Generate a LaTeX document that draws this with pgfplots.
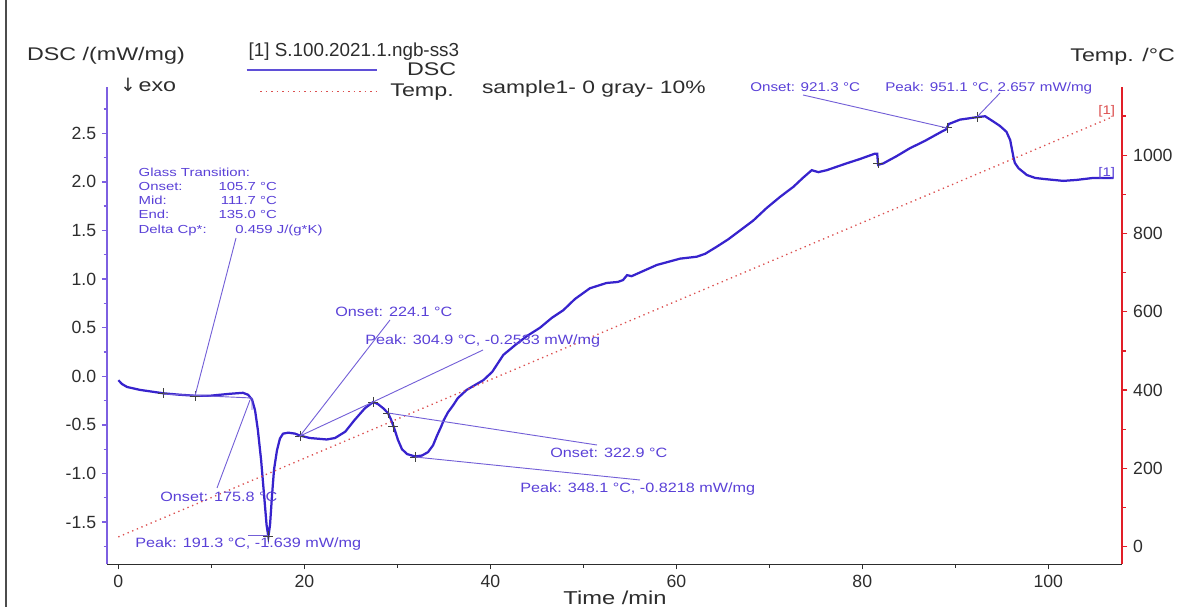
\documentclass[border=0pt]{standalone}
\usepackage{pgfplots}
\pgfplotsset{compat=1.18}
\usepackage{fontspec}
\setmainfont{Liberation Sans}
\newfontfamily\widefont[FakeStretch=1.27]{Liberation Sans}
\newfontfamily\annfont[FakeStretch=1.2]{Liberation Sans}
\newfontfamily\glassfont[FakeStretch=1.28]{Liberation Sans}
\newfontfamily\symfont{DejaVu Sans}

\definecolor{dscblue}{RGB}{55,35,205}
\definecolor{axblue}{RGB}{125,95,225}
\definecolor{annblue}{RGB}{90,65,215}
\definecolor{leader}{RGB}{115,95,215}
\definecolor{tred}{RGB}{225,30,40}
\definecolor{tdot}{RGB}{220,80,80}
\definecolor{txt}{RGB}{45,45,45}

\begin{document}
\begin{tikzpicture}
\useasboundingbox (0,0) rectangle (710.4pt,364.2pt);

% --- DSC, left axis -------------------------------------------------------
\begin{axis}[
  at={(64.2pt,25.62pt)}, anchor=south west,
  scale only axis, width=609.2pt, height=286.1pt,
  xmin=-1.22, xmax=107.96, ymin=-1.934, ymax=2.971,
  axis x line*=bottom, axis y line*=left,
  x axis line style={txt, line width=0.9pt},
  y axis line style={axblue, line width=1.2pt},
  xtick={0,20,...,100}, minor xtick={10,30,...,90},
  ytick={-1.5,-1,...,2.5}, minor ytick={-1.75,-1.25,...,2.75},
  tick align=outside, major tick length=3pt, minor tick length=2pt,
  x tick style={txt, line width=0.8pt},
  y tick style={axblue, line width=0.8pt},
  /pgf/number format/assume math mode=true,
  yticklabel style={/pgf/number format/.cd, fixed, fixed zerofill, precision=1},
  tick label style={font=\fontsize{10.6}{12}\selectfont, text=txt},
]
\addplot[dscblue, line width=1.35pt] coordinates {
  (0,-0.04) (0.4,-0.08) (0.94,-0.11) (2.33,-0.14) (4.84,-0.175) (6.63,-0.19)
  (8.25,-0.20) (9.86,-0.20) (12.0,-0.18) (13.4,-0.17) (13.95,-0.19) (14.38,-0.24)
  (14.7,-0.35) (15.0,-0.55) (15.35,-0.86) (15.67,-1.22) (15.94,-1.53) (16.13,-1.65)
  (16.31,-1.53) (16.53,-1.22) (16.74,-0.96) (17.06,-0.76) (17.38,-0.64) (17.71,-0.59)
  (18.28,-0.58) (19.0,-0.59) (19.54,-0.61) (20.6,-0.635) (22.4,-0.65) (23.3,-0.635)
  (24.4,-0.57) (25.4,-0.45) (26.5,-0.33) (27.4,-0.265) (27.9,-0.285) (28.5,-0.33)
  (29.0,-0.38) (29.3,-0.44) (29.65,-0.53) (30.07,-0.655) (30.5,-0.75) (31.05,-0.80)
  (31.9,-0.825) (32.65,-0.815) (33.3,-0.78) (33.84,-0.71) (34.27,-0.61) (34.7,-0.52)
  (35.0,-0.45) (35.45,-0.37) (35.99,-0.30) (36.5,-0.225) (37.46,-0.14) (38.35,-0.09)
  (39.25,-0.04) (40.2,0.045) (41.4,0.22) (42.66,0.32) (43.95,0.415) (45.35,0.50)
  (46.6,0.60) (47.85,0.68) (49.1,0.795) (50.7,0.905) (52.5,0.96) (53.7,0.97)
  (54.27,0.99) (54.7,1.04) (55.2,1.03) (57.9,1.145) (60.4,1.21) (62.2,1.23)
  (63.1,1.26) (64.3,1.33) (65.6,1.41) (66.85,1.50) (68.25,1.60) (69.7,1.73)
  (71.15,1.845) (72.6,1.95) (73.6,2.04) (74.56,2.12) (75.27,2.10) (76.17,2.12)
  (78.3,2.19) (79.75,2.235) (81.35,2.29) (81.6,2.29) (81.7,2.175) (82.26,2.19)
  (83.7,2.265) (85.1,2.345) (86.7,2.42) (88.5,2.515) (89.0,2.54) (89.3,2.595)
  (90.5,2.64) (92.3,2.665) (93.2,2.675) (94.1,2.62) (94.8,2.575) (95.5,2.515)
  (95.9,2.43) (96.1,2.33) (96.24,2.26) (96.4,2.195) (96.8,2.14) (97.7,2.07)
  (98.6,2.04) (99.5,2.03) (101.6,2.01) (103.05,2.02) (104.8,2.04) (107.0,2.04)
};
% characteristic points
\addplot[only marks, mark=+, mark size=3pt, black!75, mark options={line width=0.5pt}]
  coordinates {
  (4.84,-0.175) (8.25,-0.204) (16.13,-1.643) (19.54,-0.614) (27.42,-0.264)
  (29.0,-0.377) (29.57,-0.518) (31.9,-0.83) (81.72,2.19) (89.1,2.555) (92.33,2.667)
};
\end{axis}

% --- Temperature, right axis ---------------------------------------------
\begin{axis}[
  at={(64.2pt,25.62pt)}, anchor=south west,
  scale only axis, width=609.2pt, height=286.1pt,
  xmin=-1.22, xmax=107.96, ymin=-45, ymax=1173,
  hide x axis, axis y line*=right,
  y axis line style={tred, line width=1.2pt},
  ytick={0,200,...,1000}, minor ytick={100,300,...,1100},
  tick align=outside, major tick length=3pt, minor tick length=2pt,
  y tick style={tred, line width=0.8pt},
  /pgf/number format/assume math mode=true,
  /pgf/number format/set thousands separator={},
  tick label style={font=\fontsize{10.6}{12}\selectfont, text=txt},
]
\addplot[tdot, dash pattern=on 0.8pt off 2.2pt, line width=0.8pt]
  coordinates {(0,25) (106.8,1097)};
\end{axis}

% --- frame, headings and annotations in reference pixel units -----------
\begin{scope}[x=0.6pt,y=0.6pt]
\draw[black!70, line width=1.2pt] (6,0) -- (6,607);
\node[anchor=base west, inner sep=0, text=txt, font=\widefont\fontsize{11}{13}\selectfont]
  at (26.7,607-60.7) {DSC /(mW/mg)};
\node[anchor=base west, inner sep=0, text=txt, font=\fontsize{11}{13}\selectfont]
  at (120,607-91.7) {\symfont\char"2193};
\node[anchor=base west, inner sep=0, text=txt, font=\widefont\fontsize{11}{13}\selectfont]
  at (138.3,607-91.7) {exo};
\node[anchor=base west, inner sep=0, text=txt, font=\fontsize{11.3}{13}\selectfont]
  at (248.3,607-56.7) {[1] S.100.2021.1.ngb-ss3};
\draw[dscblue!80!white, line width=0.9pt] (246.7,607-70) -- (376.7,607-70);
\node[anchor=base west, inner sep=0, text=txt, font=\widefont\fontsize{11}{13}\selectfont]
  at (406.7,607-76) {DSC};
\draw[tdot, dash pattern=on 0.9pt off 2.4pt, line width=0.9pt] (260,607-91.7) -- (380,607-91.7);
\node[anchor=base west, inner sep=0, text=txt, font=\widefont\fontsize{11}{13}\selectfont]
  at (390,607-97) {Temp.};
\node[anchor=base west, inner sep=0, text=txt, font=\widefont\fontsize{10.8}{13}\selectfont]
  at (481.7,607-93.5) {sample1- 0 gray- 10\%};
\node[anchor=base west, inner sep=0, text=txt, font=\widefont\fontsize{11}{13}\selectfont]
  at (1070,607-61.7) {Temp. /°C};
\node[anchor=base, inner sep=0, text=txt, font=\widefont\fontsize{11.2}{13}\selectfont]
  at (615,607-605) {Time /min};
\node[anchor=base west, inner sep=0, text=tdot, font=\annfont\fontsize{7.5}{9}\selectfont]
  at (1098,607-115) {[1]};
\node[anchor=base west, inner sep=0, text=annblue, font=\annfont\fontsize{7.5}{9}\selectfont]
  at (1098,607-177) {[1]};

\begin{scope}[every node/.style={anchor=base west, inner sep=0, text=annblue,
    font=\glassfont\fontsize{7}{8}\selectfont}]
  \node at (138.3,607-176.7) {Glass Transition:};
  \node at (138.3,607-190.7) {Onset:};   \node at (218.3,607-190.7) {105.7 °C};
  \node at (138.3,607-205)   {Mid:};     \node at (220.5,607-205)   {111.7 °C};
  \node at (138.3,607-219)   {End:};     \node at (218.3,607-219)   {135.0 °C};
  \node at (138.3,607-234)   {Delta Cp*:}; \node at (235,607-234) {0.459 J/(g*K)};
\end{scope}
\begin{scope}[every node/.style={anchor=base west, inner sep=0, text=annblue,
    font=\annfont\fontsize{8.1}{10}\selectfont}]
  \node at (335,607-317)   {Onset: 224.1 °C};
  \node at (365,607-345)   {Peak: 304.9 °C, -0.2533 mW/mg};
  \node at (550,607-458)   {Onset: 322.9 °C};
  \node at (520,607-493)   {Peak: 348.1 °C, -0.8218 mW/mg};
  \node at (160,607-501.7) {Onset: 175.8 °C};
  \node at (135,607-548)   {Peak: 191.3 °C, -1.639 mW/mg};
  \node[font=\annfont\fontsize{7.6}{9}\selectfont] at (750,607-91.7) {Onset: 921.3 °C};
  \node[font=\annfont\fontsize{7.6}{9}\selectfont] at (885,607-91.7) {Peak: 951.1 °C, 2.657 mW/mg};
\end{scope}
\begin{scope}[leader, line width=0.55pt]
  \draw (236,607-238) -- (195,607-396);
  \draw (163,607-394) -- (252,607-398) -- (252,607-410);
  \draw (217,607-488) -- (250,607-400);
  \draw (248,607-535.5) -- (268,607-535.5);
  \draw (390,607-320) -- (300,607-436) -- (373,607-402) -- (483,607-350);
  \draw (388,607-413) -- (597,607-445);
  \draw (415,607-457) -- (640,607-480);
  \draw (803,607-95) -- (947,607-128);
  \draw (1000,607-93) -- (977,607-117);
\end{scope}
\end{scope}
\end{tikzpicture}
\end{document}
